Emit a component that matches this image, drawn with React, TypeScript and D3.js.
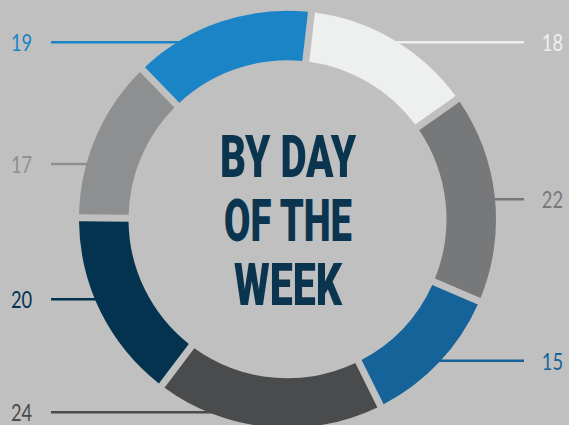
import React from "react";
import * as d3 from "d3";

const values = [18, 22, 15, 24, 20, 17, 19];
const labels = ["18", "22", "15", "24", "20", "17", "19"];
const colors = ["#eef0f0", "#77787a", "#156399", "#4a4b4d", "#04334f", "#8e8f91", "#1b84c6"];
const title = ["BY DAY", "OF THE", "WEEK"];

// layout
const W = 569, H = 425;
const cx = 287.5, cy = 219.3;
const rOuter = 208.5, rInner = 159;
const startDeg = 6.6;
const labelY = [42.3, 199.3, 360.7, 412.3, 299.3, 164, 42.3];
const labelSide = ["right", "right", "right", "left", "left", "left", "left"];
const titleWidths = [136, 128, 108];

export default function App() {
  const a0 = (startDeg * Math.PI) / 180;
  const pie = d3.pie<number>().sort(null).value((d) => d)
    .startAngle(a0).endAngle(a0 + 2 * Math.PI)
    .padAngle(7 / Math.sqrt(rInner * rInner + rOuter * rOuter));
  const arc = d3.arc<d3.PieArcDatum<number>>().innerRadius(rInner).outerRadius(rOuter);
  const arcs = pie(values);

  return (
    <svg width={W} height={H} style={{ position: "absolute", left: 0, top: 0, background: "#bfc0bf" }}>
      <rect width={W} height={H} fill="#bfc0bf" />
      {values.map((v, i) => {
        const y = labelY[i];
        const dy = y - cy;
        const dx = Math.sqrt(Math.max(0, rOuter * rOuter - dy * dy));
        const right = labelSide[i] === "right";
        const x1 = right ? 524 : 51;
        const x2 = right ? cx + dx - 4 : cx - dx + 4;
        return (
          <g key={"l" + i}>
            <line x1={x1} x2={x2} y1={y} y2={y} stroke={colors[i]} strokeWidth={2.6} />
            <text
              x={right ? 563 : 11}
              y={y + 8.8}
              textAnchor={right ? "end" : "start"}
              fill={colors[i]}
              fontFamily="Lato, 'Open Sans', sans-serif"
              fontWeight={400}
              fontSize={24}
              textLength={labels[i].length * 10.6}
              lengthAdjust="spacingAndGlyphs"
            >
              {labels[i]}
            </text>
          </g>
        );
      })}
      <g transform={`translate(${cx},${cy})`}>
        {arcs.map((a, i) => (
          <path key={i} d={arc(a) || ""} fill={colors[i]} />
        ))}
      </g>
      {title.map((t, i) => (
        <text
          key={t}
          x={288}
          y={176.7 + i * 64.2}
          textAnchor="middle"
          fill="#0b344f"
          fontFamily="Roboto, sans-serif"
          fontWeight={900}
          fontSize={58.5}
          textLength={titleWidths[i]}
          lengthAdjust="spacingAndGlyphs"
        >
          {t}
        </text>
      ))}
    </svg>
  );
}
